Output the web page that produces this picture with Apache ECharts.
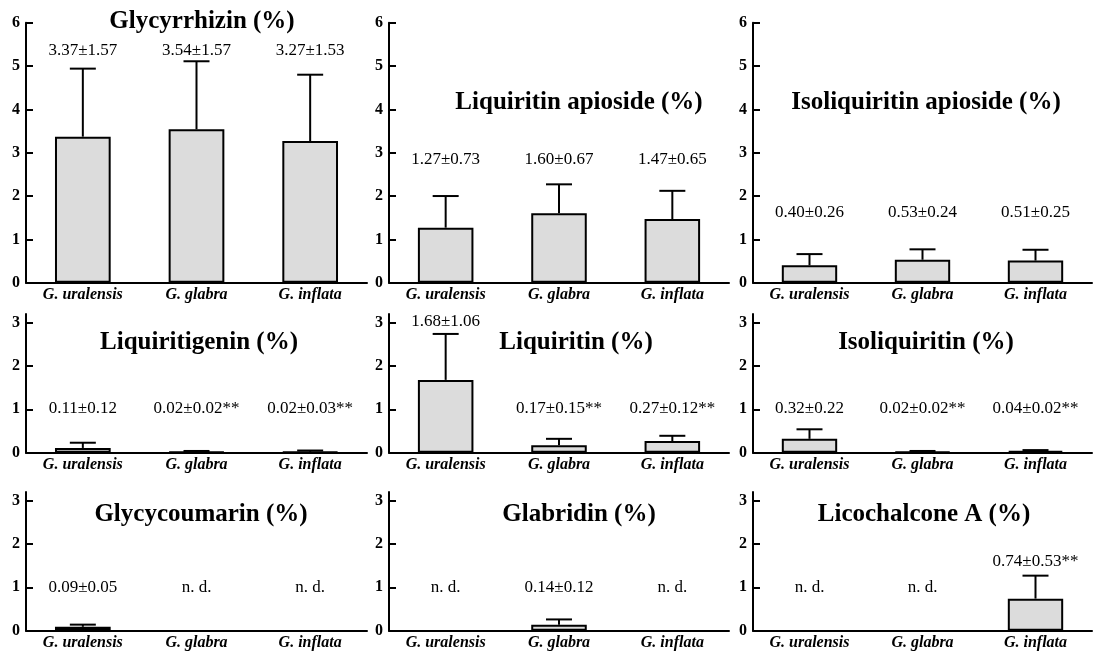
<!DOCTYPE html>
<html>
<head>
<meta charset="utf-8">
<script src="https://cdn.jsdelivr.net/npm/echarts@6/dist/echarts.min.js"></script>
<style>
  html, body { margin: 0; padding: 0; background: #fff; }
  #chart { width: 1093px; height: 652px; }
</style>
</head>
<body>
<div id="chart"></div>
<script>
// data
const species = ['G. uralensis', 'G. glabra', 'G. inflata'];
const compounds = [
  'Glycyrrhizin (%)', 'Liquiritin apioside (%)', 'Isoliquiritin apioside (%)',
  'Liquiritigenin (%)', 'Liquiritin (%)', 'Isoliquiritin (%)',
  'Glycycoumarin (%)', 'Glabridin (%)', 'Licochalcone A (%)'
];
// null = n. d.
const meanValues = [
  [3.37, 3.54, 3.27], [1.27, 1.60, 1.47], [0.40, 0.53, 0.51],
  [0.11, 0.02, 0.02], [1.68, 0.17, 0.27], [0.32, 0.02, 0.04],
  [0.09, null, null], [null, 0.14, null], [null, null, 0.74]
];
const sdValues = [
  [1.57, 1.57, 1.53], [0.73, 0.67, 0.65], [0.26, 0.24, 0.25],
  [0.12, 0.02, 0.03], [1.06, 0.15, 0.12], [0.22, 0.02, 0.02],
  [0.05, null, null], [null, 0.12, null], [null, null, 0.53]
];
const signif = [
  ['', '', ''], ['', '', ''], ['', '', ''],
  ['', '**', '**'], ['', '**', '**'], ['', '**', '**'],
  ['', '', ''], ['', '', ''], ['', '', '**']
];
const yTicksTop = [0, 1, 2, 3, 4, 5, 6];
const yTicksLow = [0, 1, 2, 3];

// layout (pixels / axis units)
const colLeft = [26, 389, 753];
const colWidth = [341, 340, 339];
const rowTop = [22.7, 314, 492];
const rowHeight = [260, 138.7, 138.7];
const rowMax = [6, 3.2, 3.2];
const titlePos = [[202, 22], [579, 103], [926, 103], [199, 343], [576, 343], [926, 343], [201, 515], [579, 515], [924, 515]];
const noteLevel = [
  [5.36, 5.36, 5.36], [2.85, 2.85, 2.85], [1.63, 1.63, 1.63],
  [1.03, 1.03, 1.03], [3.02, 1.03, 1.03], [1.03, 1.03, 1.03],
  [0.99, 0.99, 0.99], [0.99, 0.99, 0.99], [0.99, 0.99, 1.59]
];

const serif = '"Liberation Serif", "Times New Roman", serif';

function noteText(k, i) {
  const m = meanValues[k][i];
  if (m === null) return 'n. d.';
  return m.toFixed(2) + '±' + sdValues[k][i].toFixed(2) + signif[k][i];
}

const chart = echarts.init(document.getElementById('chart'));
const grids = [], xAxes = [], yAxes = [], series = [], graphics = [];

compounds.forEach((name, k) => {
  const row = Math.floor(k / 3), col = k % 3;
  const ticks = row === 0 ? yTicksTop : yTicksLow;
  grids.push({ left: colLeft[col], top: rowTop[row], width: colWidth[col], height: rowHeight[row] });
  xAxes.push({
    type: 'category', gridIndex: k, data: species,
    axisLine: { lineStyle: { color: '#000', width: 2 } },
    axisTick: { inside: true, length: 5, lineStyle: { color: '#000', width: 2 } },
    axisLabel: { color: '#000', fontFamily: serif, fontSize: 16, fontWeight: 'bold', fontStyle: 'italic', margin: 4 }
  });
  yAxes.push({
    type: 'value', gridIndex: k, min: 0, max: rowMax[row], interval: 1,
    splitLine: { show: false },
    axisLine: { show: true, lineStyle: { color: '#000', width: 2 } },
    axisTick: { show: true, inside: true, length: 7, customValues: ticks, lineStyle: { color: '#000', width: 2 } },
    axisLabel: { color: '#000', fontFamily: serif, fontSize: 16, fontWeight: 'bold', margin: 6, customValues: ticks }
  });
  // bars
  series.push({
    type: 'bar', xAxisIndex: k, yAxisIndex: k, barWidth: '49%',
    data: meanValues[k].map(v => (v === null ? '-' : v)),
    itemStyle: { color: '#dcdcdc', borderColor: '#000', borderWidth: 2 },
    silent: true
  });
  // upper error bars
  series.push({
    type: 'custom', xAxisIndex: k, yAxisIndex: k, z: 3,
    data: meanValues[k].map((v, i) => [i, v === null ? NaN : v, v === null ? NaN : sdValues[k][i]]),
    renderItem: function (params, api) {
      const m = api.value(1), s = api.value(2);
      if (isNaN(m)) return null;
      const base = api.coord([api.value(0), m]);
      const top = api.coord([api.value(0), m + s]);
      const style = { stroke: '#000', lineWidth: 2 };
      return {
        type: 'group',
        children: [
          { type: 'line', shape: { x1: base[0], y1: base[1], x2: top[0], y2: top[1] }, style: style },
          { type: 'line', shape: { x1: top[0] - 13, y1: top[1], x2: top[0] + 13, y2: top[1] }, style: style }
        ]
      };
    }
  });
  // mean ± sd notes
  series.push({
    type: 'custom', xAxisIndex: k, yAxisIndex: k, z: 4,
    data: noteLevel[k].map((lv, i) => [i, lv]),
    renderItem: function (params, api) {
      const p = api.coord([api.value(0), api.value(1)]);
      return {
        type: 'text', x: p[0], y: p[1],
        style: {
          text: noteText(k, params.dataIndex), align: 'center', verticalAlign: 'middle',
          font: '17px ' + serif, fill: '#000'
        }
      };
    }
  });
  graphics.push({
    type: 'text', x: titlePos[k][0], y: titlePos[k][1],
    style: { text: name, align: 'center', verticalAlign: 'middle', font: 'bold 25px ' + serif, fill: '#000' }
  });
});

chart.setOption({
  animation: false,
  backgroundColor: '#fff',
  grid: grids,
  xAxis: xAxes,
  yAxis: yAxes,
  series: series,
  graphic: graphics
});
window.addEventListener('resize', () => chart.resize());
</script>
</body>
</html>
